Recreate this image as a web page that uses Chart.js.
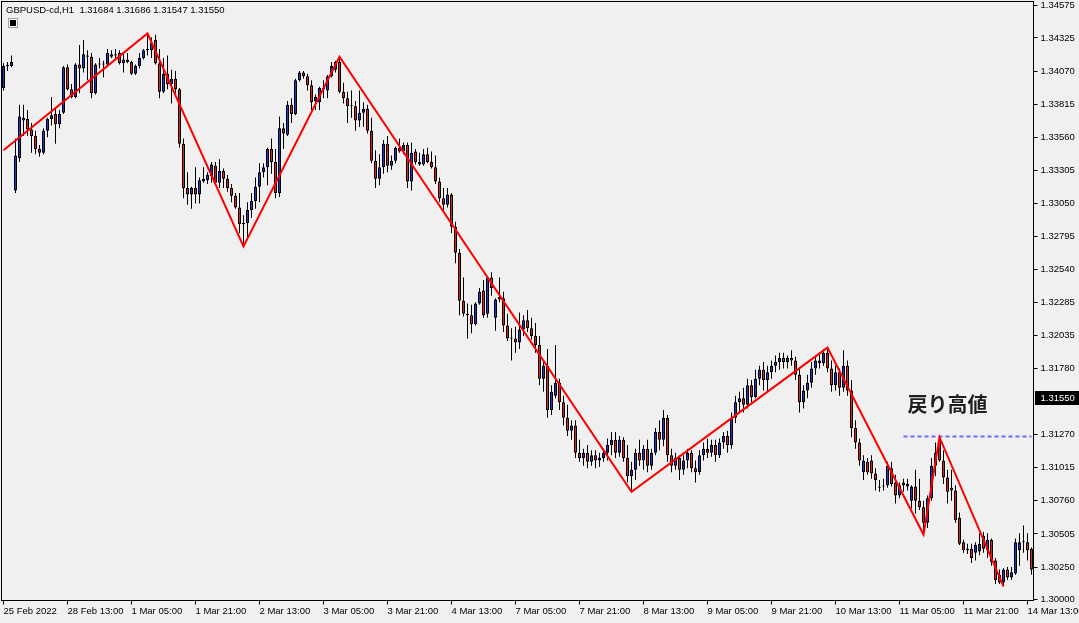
<!DOCTYPE html>
<html>
<head>
<meta charset="utf-8">
<script src="https://cdn.jsdelivr.net/npm/chart.js"></script>
<style>
  html, body { margin: 0; padding: 0; background: #f0f0f0; }
  #wrap { width: 1079px; height: 623px; }
</style>
</head>
<body>
<div id="wrap"><canvas id="chart" width="1079" height="623"></canvas></div>
<script>
// GBPUSD H1 candles, 25 Feb 21:00 .. 14 Mar 14:00 (one entry per bar)
const opens = [
  1.3394,1.3411,1.3411,1.3315,1.3340,1.3371,1.3370,1.3362,1.3357,1.3347,1.3344,1.3361,1.3370,1.3374,1.3366,1.3375,
  1.3410,1.3393,1.3387,1.3412,1.3409,1.3418,1.3418,1.3390,1.3412,1.3412,1.3412,1.3418,1.3420,1.3421,1.3413,1.3416,
  1.3414,1.3405,1.3411,1.3417,1.3423,1.3423,1.3431,1.3413,1.3391,1.3405,1.3397,1.3401,1.3393,1.3351,1.3317,1.3312,
  1.3317,1.3312,1.3322,1.3323,1.3326,1.3334,1.3321,1.3330,1.3324,1.3317,1.3311,1.3302,1.3289,1.3290,1.3300,1.3307,
  1.3318,1.3329,1.3333,1.3347,1.3337,1.3313,1.3363,1.3358,1.3381,1.3374,1.3400,1.3406,1.3403,1.3396,1.3384,1.3383,
  1.3394,1.3392,1.3403,1.3408,1.3414,1.3391,1.3386,1.3380,1.3380,1.3369,1.3375,1.3378,1.3361,1.3338,1.3324,1.3333,
  1.3351,1.3334,1.3338,1.3348,1.3345,1.3350,1.3322,1.3345,1.3337,1.3335,1.3343,1.3337,1.3333,1.3322,1.3309,1.3304,
  1.3312,1.3287,1.3267,1.3230,1.3220,1.3219,1.3212,1.3228,1.3238,1.3220,1.3248,1.3217,1.3231,1.3232,1.3211,1.3201,
  1.3201,1.3198,1.3208,1.3215,1.3209,1.3203,1.3196,1.3170,1.3180,1.3146,1.3157,1.3167,1.3152,1.3140,1.3130,1.3134,
  1.3113,1.3109,1.3113,1.3106,1.3111,1.3107,1.3109,1.3113,1.3119,1.3123,1.3113,1.3123,1.3109,1.3095,1.3100,1.3113,
  1.3107,1.3116,1.3103,1.3113,1.3129,1.3123,1.3140,1.3111,1.3103,1.3109,1.3100,1.3107,1.3113,1.3101,1.3098,1.3111,
  1.3116,1.3113,1.3119,1.3111,1.3121,1.3126,1.3119,1.3140,1.3152,1.3155,1.3150,1.3165,1.3156,1.3170,1.3177,1.3169,
  1.3175,1.3180,1.3183,1.3186,1.3183,1.3186,1.3184,1.3173,1.3152,1.3161,1.3167,1.3178,1.3184,1.3182,1.3190,1.3178,
  1.3165,1.3175,1.3163,1.3180,1.3161,1.3132,1.3121,1.3098,1.3106,1.3107,1.3097,1.3086,1.3087,1.3088,1.3101,1.3090,
  1.3080,1.3090,1.3089,1.3076,1.3087,1.3076,1.3071,1.3059,1.3078,1.3103,1.3123,1.3107,1.3094,1.3086,1.3084,1.3063,
  1.3044,1.3039,1.3039,1.3036,1.3037,1.3049,1.3038,1.3046,1.3030,1.3019,1.3013,1.3023,1.3017,1.3020,1.3038,1.3044,
  1.3044,1.3039
];
const highs = [
  1.3413,1.3414,1.3419,1.3355,1.3381,1.3381,1.3377,1.3367,1.3361,1.3350,1.3363,1.3371,1.3387,1.3378,1.3377,1.3411,
  1.3412,1.3397,1.3413,1.3427,1.3431,1.3423,1.3421,1.3413,1.3417,1.3415,1.3424,1.3423,1.3424,1.3423,1.3421,1.3421,
  1.3415,1.3412,1.3421,1.3424,1.3436,1.3433,1.3435,1.3424,1.3417,1.3419,1.3408,1.3407,1.3394,1.3355,1.3329,1.3318,
  1.3333,1.3325,1.3333,1.3329,1.3337,1.3337,1.3339,1.3332,1.3327,1.3320,1.3313,1.3313,1.3296,1.3306,1.3313,1.3325,
  1.3336,1.3336,1.3348,1.3355,1.3347,1.3372,1.3367,1.3384,1.3386,1.3401,1.3407,1.3407,1.3405,1.3400,1.3389,1.3395,
  1.3400,1.3404,1.3414,1.3415,1.3418,1.3398,1.3391,1.3392,1.3384,1.3392,1.3383,1.3381,1.3371,1.3346,1.3343,1.3354,
  1.3357,1.3342,1.3349,1.3355,1.3352,1.3352,1.3352,1.3347,1.3344,1.3347,1.3348,1.3345,1.3342,1.3325,1.3317,1.3317,
  1.3313,1.3291,1.3270,1.3248,1.3228,1.3227,1.3229,1.3240,1.3246,1.3249,1.3252,1.3232,1.3248,1.3237,1.3220,1.3209,
  1.3210,1.3221,1.3219,1.3223,1.3217,1.3213,1.3203,1.3184,1.3193,1.3165,1.3196,1.3170,1.3157,1.3150,1.3138,1.3138,
  1.3123,1.3116,1.3119,1.3115,1.3115,1.3113,1.3116,1.3124,1.3129,1.3129,1.3126,1.3125,1.3119,1.3106,1.3116,1.3123,
  1.3119,1.3123,1.3116,1.3132,1.3138,1.3146,1.3142,1.3116,1.3113,1.3111,1.3111,1.3116,1.3115,1.3107,1.3115,1.3121,
  1.3124,1.3123,1.3123,1.3124,1.3129,1.3130,1.3144,1.3157,1.3160,1.3163,1.3170,1.3169,1.3177,1.3180,1.3183,1.3180,
  1.3184,1.3188,1.3190,1.3190,1.3188,1.3192,1.3187,1.3178,1.3165,1.3173,1.3183,1.3188,1.3190,1.3193,1.3194,1.3184,
  1.3180,1.3178,1.3192,1.3184,1.3169,1.3138,1.3124,1.3111,1.3109,1.3111,1.3101,1.3092,1.3093,1.3106,1.3106,1.3096,
  1.3090,1.3093,1.3093,1.3088,1.3100,1.3093,1.3076,1.3080,1.3109,1.3121,1.3125,1.3115,1.3100,1.3100,1.3088,1.3067,
  1.3046,1.3043,1.3043,1.3044,1.3051,1.3052,1.3051,1.3047,1.3032,1.3023,1.3024,1.3025,1.3025,1.3047,1.3051,1.3057,
  1.3051,1.3040
];
const lows = [
  1.3392,1.3407,1.3410,1.3313,1.3337,1.3357,1.3357,1.3344,1.3343,1.3341,1.3343,1.3356,1.3365,1.3351,1.3363,1.3374,
  1.3392,1.3386,1.3386,1.3390,1.3406,1.3400,1.3386,1.3389,1.3409,1.3402,1.3411,1.3417,1.3417,1.3412,1.3406,1.3413,
  1.3404,1.3404,1.3409,1.3416,1.3419,1.3417,1.3412,1.3386,1.3390,1.3393,1.3382,1.3390,1.3348,1.3309,1.3304,1.3301,
  1.3305,1.3305,1.3321,1.3320,1.3321,1.3320,1.3317,1.3317,1.3314,1.3306,1.3301,1.3282,1.3272,1.3278,1.3294,1.3301,
  1.3306,1.3325,1.3319,1.3328,1.3309,1.3310,1.3347,1.3357,1.3367,1.3373,1.3399,1.3401,1.3392,1.3377,1.3377,1.3377,
  1.3386,1.3386,1.3402,1.3406,1.3390,1.3382,1.3367,1.3371,1.3361,1.3364,1.3364,1.3359,1.3336,1.3317,1.3319,1.3328,
  1.3329,1.3331,1.3336,1.3344,1.3343,1.3317,1.3315,1.3335,1.3334,1.3334,1.3336,1.3332,1.3320,1.3306,1.3300,1.3302,
  1.3282,1.3259,1.3219,1.3218,1.3201,1.3205,1.3211,1.3227,1.3217,1.3217,1.3234,1.3207,1.3229,1.3206,1.3199,1.3184,
  1.3190,1.3193,1.3203,1.3206,1.3200,1.3190,1.3165,1.3160,1.3140,1.3142,1.3155,1.3146,1.3134,1.3126,1.3123,1.3109,
  1.3106,1.3103,1.3101,1.3103,1.3101,1.3102,1.3106,1.3107,1.3111,1.3109,1.3110,1.3106,1.3090,1.3083,1.3092,1.3103,
  1.3100,1.3098,1.3100,1.3111,1.3115,1.3118,1.3106,1.3098,1.3100,1.3092,1.3096,1.3101,1.3098,1.3090,1.3096,1.3107,
  1.3109,1.3110,1.3106,1.3109,1.3116,1.3113,1.3116,1.3136,1.3144,1.3144,1.3147,1.3152,1.3155,1.3165,1.3161,1.3160,
  1.3170,1.3175,1.3177,1.3178,1.3178,1.3180,1.3169,1.3144,1.3147,1.3155,1.3163,1.3173,1.3178,1.3180,1.3175,1.3160,
  1.3161,1.3157,1.3160,1.3157,1.3125,1.3116,1.3103,1.3092,1.3096,1.3093,1.3084,1.3083,1.3084,1.3086,1.3087,1.3074,
  1.3078,1.3083,1.3084,1.3070,1.3066,1.3069,1.3050,1.3055,1.3076,1.3095,1.3106,1.3089,1.3074,1.3076,1.3059,1.3042,
  1.3036,1.3035,1.3028,1.3030,1.3034,1.3036,1.3032,1.3026,1.3012,1.3012,1.3010,1.3015,1.3015,1.3019,1.3026,1.3036,
  1.3030,1.3019
];
const closes = [
  1.3411,1.3411,1.3414,1.3342,1.3372,1.3369,1.3362,1.3357,1.3347,1.3344,1.3361,1.3370,1.3373,1.3366,1.3374,1.3410,
  1.3393,1.3387,1.3412,1.3409,1.3420,1.3419,1.3390,1.3412,1.3412,1.3412,1.3421,1.3420,1.3419,1.3413,1.3416,1.3414,
  1.3405,1.3411,1.3417,1.3423,1.3424,1.3429,1.3413,1.3391,1.3405,1.3397,1.3401,1.3393,1.3351,1.3317,1.3312,1.3317,
  1.3312,1.3323,1.3324,1.3327,1.3335,1.3321,1.3330,1.3324,1.3317,1.3311,1.3302,1.3289,1.3290,1.3300,1.3307,1.3318,
  1.3329,1.3333,1.3347,1.3337,1.3313,1.3363,1.3359,1.3381,1.3374,1.3400,1.3406,1.3403,1.3396,1.3383,1.3387,1.3394,
  1.3393,1.3403,1.3411,1.3414,1.3391,1.3386,1.3380,1.3380,1.3369,1.3375,1.3378,1.3361,1.3338,1.3324,1.3333,1.3351,
  1.3334,1.3338,1.3348,1.3345,1.3350,1.3322,1.3344,1.3337,1.3335,1.3343,1.3337,1.3333,1.3322,1.3309,1.3304,1.3312,
  1.3287,1.3267,1.3230,1.3220,1.3219,1.3212,1.3228,1.3237,1.3219,1.3248,1.3240,1.3231,1.3233,1.3211,1.3201,1.3201,
  1.3198,1.3208,1.3215,1.3209,1.3203,1.3196,1.3170,1.3180,1.3146,1.3160,1.3167,1.3152,1.3140,1.3130,1.3134,1.3113,
  1.3109,1.3113,1.3106,1.3111,1.3107,1.3109,1.3113,1.3119,1.3123,1.3113,1.3123,1.3109,1.3095,1.3100,1.3113,1.3107,
  1.3116,1.3103,1.3113,1.3129,1.3123,1.3140,1.3111,1.3103,1.3109,1.3100,1.3107,1.3113,1.3101,1.3098,1.3111,1.3116,
  1.3113,1.3119,1.3111,1.3121,1.3126,1.3119,1.3140,1.3152,1.3155,1.3150,1.3165,1.3156,1.3170,1.3177,1.3169,1.3175,
  1.3180,1.3183,1.3186,1.3183,1.3186,1.3184,1.3173,1.3152,1.3161,1.3167,1.3178,1.3184,1.3182,1.3190,1.3178,1.3165,
  1.3175,1.3163,1.3180,1.3161,1.3132,1.3121,1.3107,1.3107,1.3098,1.3097,1.3092,1.3086,1.3087,1.3103,1.3089,1.3080,
  1.3088,1.3088,1.3087,1.3087,1.3076,1.3071,1.3059,1.3078,1.3103,1.3113,1.3107,1.3094,1.3083,1.3084,1.3061,1.3043,
  1.3038,1.3038,1.3032,1.3042,1.3043,1.3039,1.3046,1.3029,1.3015,1.3013,1.3023,1.3017,1.3021,1.3044,1.3044,1.3044,
  1.3038,1.3023
];

// time axis: one label every 16 bars
const tickStep = 16;
const tickLabels = [
  '25 Feb 2022', '28 Feb 13:00', '1 Mar 05:00', '1 Mar 21:00', '2 Mar 13:00', '3 Mar 05:00',
  '3 Mar 21:00', '4 Mar 13:00', '7 Mar 05:00', '7 Mar 21:00', '8 Mar 13:00', '9 Mar 05:00',
  '9 Mar 21:00', '10 Mar 13:00', '11 Mar 05:00', '11 Mar 21:00', '14 Mar 13:00'
];

// price axis
const priceMin = 1.29992;
const priceMax = 1.34606;
const priceTicks = [
  1.34575, 1.34325, 1.34070, 1.33815, 1.33560, 1.33305, 1.33050, 1.32795, 1.32540,
  1.32285, 1.32035, 1.31780, 1.31270, 1.31015, 1.30760, 1.30505, 1.30250, 1.30000
];

// zigzag swing points (bar index / price)
const zigIdx = [0, 36, 60, 84, 157, 206, 230, 234, 250];
const zigVal = [1.3346, 1.3436, 1.3272, 1.3418, 1.3083, 1.3194, 1.3050, 1.3125, 1.3010];

// pullback high level
const levelPrice = 1.31255;
const levelFrom = 225;
const noteText = '戻り高値';
const noteBar = 226;
const notePrice = 1.3150;

const symbolTitle = 'GBPUSD-cd,H1  1.31684 1.31686 1.31547 1.31550';
const currentPrice = 1.31550;

const FONT = '"Liberation Sans", Arial, sans-serif';
const BULL = '#2233cc';
const BEAR = '#dd2222';

const bars = opens.map((_, i) => i);
const bodyColors = opens.map((o, i) => closes[i] > o ? BULL : (closes[i] < o ? BEAR : '#000'));

const zigData = bars.map(() => null);
zigIdx.forEach((idx, k) => { zigData[idx] = zigVal[k]; });

const levelData = bars.map(i => i >= levelFrom ? levelPrice : null);

const mtPlugin = {
  id: 'mtLook',
  beforeDraw(chart) {
    const ctx = chart.ctx;
    ctx.save();
    ctx.fillStyle = '#f0f0f0';
    ctx.fillRect(0, 0, chart.width, chart.height);
    ctx.restore();
  },
  afterDraw(chart) {
    const { ctx, chartArea: a, scales: { x, y } } = chart;
    ctx.save();

    // chart frame
    ctx.strokeStyle = '#000';
    ctx.lineWidth = 1;
    ctx.strokeRect(a.left, a.top, a.right - a.left, a.bottom - a.top);

    // symbol line + small icon
    ctx.fillStyle = '#000';
    ctx.font = '9.5px ' + FONT;
    ctx.textBaseline = 'top';
    ctx.textAlign = 'left';
    ctx.fillText(symbolTitle, 6, 6);
    ctx.fillStyle = '#a0a0a0';
    ctx.fillRect(8, 18, 10, 10);
    ctx.fillStyle = '#ffffff';
    ctx.fillRect(9, 19, 8, 8);
    ctx.fillStyle = '#000';
    ctx.fillRect(10, 20, 6, 6);

    // annotation
    ctx.font = 'bold 20px "Noto Sans CJK JP", sans-serif';
    ctx.fillStyle = '#1e1e1e';
    ctx.textBaseline = 'middle';
    ctx.fillText(noteText, x.getPixelForValue(noteBar), y.getPixelForValue(notePrice));

    // current price tag on the axis
    const py = Math.round(y.getPixelForValue(currentPrice));
    ctx.fillStyle = '#000';
    ctx.fillRect(a.right + 1.5, py - 7, 44, 14);
    ctx.fillStyle = '#fff';
    ctx.font = '9.5px ' + FONT;
    ctx.fillText(currentPrice.toFixed(5), a.right + 7, py);

    ctx.restore();
  }
};

new Chart(document.getElementById('chart'), {
  type: 'bar',
  data: {
    labels: bars,
    datasets: [
      {
        type: 'line',
        label: 'zigzag',
        data: zigData,
        borderColor: '#ff0000',
        borderWidth: 2,
        pointRadius: 0,
        spanGaps: true,
        tension: 0,
        order: 0
      },
      {
        type: 'line',
        label: 'level',
        data: levelData,
        borderColor: '#6b6bff',
        borderWidth: 2,
        borderDash: [4, 3],
        pointRadius: 0,
        order: 1
      },
      {
        label: 'body',
        data: opens.map((o, i) => [o, closes[i]]),
        backgroundColor: bodyColors,
        borderColor: '#000',
        borderWidth: 1,
        borderSkipped: false,
        barThickness: 3,
        minBarLength: 1,
        inflateAmount: 0,
        grouped: false,
        order: 2
      },
      {
        label: 'wick',
        data: lows.map((l, i) => [l, highs[i]]),
        backgroundColor: '#000',
        barThickness: 1,
        inflateAmount: 0,
        grouped: false,
        order: 3
      }
    ]
  },
  options: {
    responsive: false,
    animation: false,
    devicePixelRatio: 1,
    layout: { padding: { left: 1.5, top: 1.5, right: 0, bottom: 0 } },
    plugins: {
      legend: { display: false },
      tooltip: { enabled: false }
    },
    scales: {
      x: {
        type: 'category',
        offset: true,
        border: { display: false },
        grid: {
          drawOnChartArea: false,
          drawTicks: true,
          tickLength: 4,
          offset: false,
          color: c => (c.index % tickStep === 0 ? '#000' : 'rgba(0,0,0,0)')
        },
        ticks: {
          autoSkip: false,
          maxRotation: 0,
          minRotation: 0,
          align: 'start',
          padding: 1,
          color: '#000',
          font: { family: FONT, size: 9.5 },
          callback: (v, i) => (i % tickStep === 0 ? tickLabels[i / tickStep] : '')
        },
        afterFit: s => { s.height = 22.5; s.paddingLeft = 0; s.paddingRight = 0; }
      },
      y: {
        type: 'linear',
        position: 'right',
        min: priceMin,
        max: priceMax,
        border: { display: false },
        grid: { drawOnChartArea: false, drawTicks: true, tickLength: 4, color: '#000' },
        afterBuildTicks: s => { s.ticks = priceTicks.map(v => ({ value: v })); },
        ticks: {
          padding: 3,
          color: '#000',
          font: { family: FONT, size: 9.5 },
          callback: v => v.toFixed(5)
        },
        afterFit: s => { s.width = 45.5; s.paddingTop = 0; s.paddingBottom = 0; }
      }
    }
  },
  plugins: [mtPlugin]
});
</script>
</body>
</html>
